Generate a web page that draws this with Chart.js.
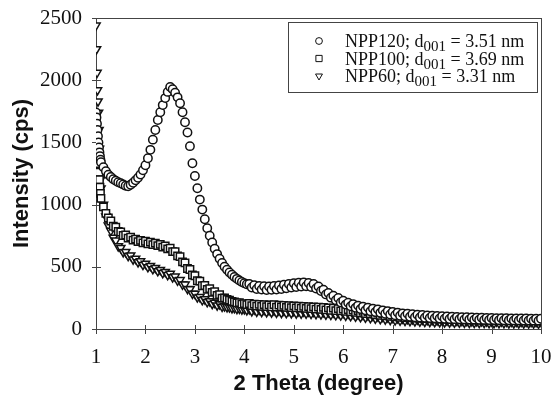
<!DOCTYPE html>
<html>
<head>
<meta charset="utf-8">
<script src="https://cdn.jsdelivr.net/npm/chart.js@4.4.0/dist/chart.umd.min.js"></script>
<style>
  html, body { margin: 0; padding: 0; background: #fff; }
  #wrap { width: 552px; height: 398px; }
</style>
</head>
<body>
<div id="wrap"><canvas id="xrd" width="552" height="398"></canvas></div>
<script>
const sampleNames = ['NPP120', 'NPP100', 'NPP60'];
const d001Values = ['3.51', '3.69', '3.31'];
const xTicks = [1, 2, 3, 4, 5, 6, 7, 8, 9, 10];
const yTicks = [0, 500, 1000, 1500, 2000, 2500];

// primeros puntos (zona de ángulo muy bajo)
const headTheta = [1.00, 1.01, 1.02, 1.03, 1.04, 1.05, 1.06, 1.07, 1.08, 1.09];
const headNPP120 = [1740, 1700, 1650, 1600, 1550, 1500, 1460, 1420, 1390, 1360];
const headNPP100 = [1700, 1640, 1560, 1480, 1400, 1330, 1260, 1200, 1140, 1090];
const headNPP60 = [2440, 2250, 2060, 1920, 1830, 1740, 1600, 1450, 1300, 1200];

// 2 theta de 1.10 a 10.00, paso 0.05
const NPP120 = [
  1340,1300,1268,1240,1222,1204,1192,1180,1172,1162,
  1152,1148,1160,1176,1195,1216,1242,1276,1316,1372,
  1440,1522,1600,1680,1742,1800,1856,1906,1945,1928,
  1900,1862,1815,1742,1662,1580,1470,1332,1230,1132,
  1040,960,882,810,750,695,645,602,565,530,
  500,476,455,436,418,403,390,378,368,360,
  362,334,352,322,346,318,344,314,342,316,
  346,318,350,322,356,328,362,334,368,338,
  372,342,374,344,370,338,362,326,342,306,
  316,278,290,252,268,232,250,214,228,196,
  212,182,200,170,188,160,180,150,172,142,
  164,136,158,130,150,122,144,116,138,110,
  132,106,126,102,122,98,118,95,115,92,
  112,90,108,88,106,86,104,84,102,82,
  100,80,98,79,96,78,95,77,94,76,
  92,75,91,74,90,73,89,72,88,72,
  87,71,86,70,86,70,85,69,84,69,
  84,68,84,68,83,67,83,67,82
];
const NPP100 = [
  1050,982,930,892,868,826,818,784,780,752,
  756,730,738,714,722,702,712,692,705,684,
  698,678,690,670,680,658,668,644,650,622,
  622,588,582,540,532,486,478,434,428,388,
  385,348,350,318,324,294,300,270,276,248,
  250,238,232,222,218,210,212,200,204,196,
  205,188,200,184,198,182,196,180,194,178,
  196,176,192,178,190,174,188,172,186,170,
  184,168,182,166,180,164,178,160,176,158,
  174,154,170,150,168,148,164,146,160,142,
  156,138,152,134,148,128,142,124,138,120,
  134,114,128,110,124,106,120,102,116,98,
  112,94,108,92,106,90,104,88,101,86,
  98,84,96,82,95,80,93,79,91,78,
  90,76,88,75,87,74,86,73,85,72,
  84,72,83,71,82,70,81,70,80,69,
  80,68,79,68,78,67,78,67,77,66,
  77,66,76,65,76,65,75,64,75
];
const NPP60 = [
  1130,1000,905,832,790,735,712,665,652,618,
  620,588,592,560,566,537,545,516,525,498,
  508,482,492,466,476,450,460,434,444,416,
  422,390,394,358,358,322,320,284,285,255,
  258,233,240,217,224,202,211,190,200,180,
  183,176,175,168,169,162,164,158,160,152,
  160,144,158,140,156,138,154,136,152,134,
  150,132,149,130,148,129,146,128,145,126,
  144,125,142,124,141,122,140,120,138,118,
  137,116,135,114,133,112,131,110,129,107,
  126,104,122,100,118,96,114,92,110,88,
  106,84,102,80,98,77,94,73,90,70,
  87,68,84,66,81,64,79,62,77,60,
  75,58,73,57,72,56,70,55,69,54,
  68,53,67,52,66,52,65,51,64,50,
  63,50,63,49,62,49,61,48,61,48,
  60,47,60,47,59,46,59,46,58,46,
  58,45,58,45,57,45,57,44,57
];

const theta = NPP120.map((_, i) => Math.round((1.10 + i * 0.05) * 100) / 100);

const toPoints = (head, values) =>
  head.map((v, i) => ({ x: headTheta[i], y: v }))
      .concat(values.map((v, i) => ({ x: theta[i], y: v })));

const serif = '"Liberation Serif", "Times New Roman", serif';
const sans = '"Liberation Sans", Arial, sans-serif';
const ink = '#111';

const markerStyles = [
  { pointStyle: 'circle', radius: 4.2, rotation: 0 },
  { pointStyle: 'rect', radius: 5.2, rotation: 0 },
  { pointStyle: 'triangle', radius: 4.8, rotation: 180 }
];

// marco del área y marcas que cruzan los ejes
const framePlugin = {
  id: 'frame',
  beforeDatasetsDraw(chart) {
    const { ctx, chartArea: a, scales } = chart;
    ctx.save();
    ctx.strokeStyle = '#444';
    ctx.lineWidth = 1;
    ctx.strokeRect(a.left + 0.5, a.top + 0.5, a.right - a.left, a.bottom - a.top);
    ctx.beginPath();
    xTicks.forEach(v => {
      const px = Math.round(scales.x.getPixelForValue(v)) + 0.5;
      ctx.moveTo(px, a.bottom - 4);
      ctx.lineTo(px, a.bottom + 5);
    });
    yTicks.forEach(v => {
      const py = Math.round(scales.y.getPixelForValue(v)) + 0.5;
      ctx.moveTo(a.left - 4, py);
      ctx.lineTo(a.left + 5, py);
    });
    ctx.stroke();
    ctx.restore();
  }
};

const drawMarker = (ctx, style, x, y) => {
  ctx.beginPath();
  if (style.pointStyle === 'circle') {
    ctx.arc(x, y, style.radius, 0, Math.PI * 2);
  } else if (style.pointStyle === 'rect') {
    const s = style.radius * Math.SQRT1_2;
    ctx.rect(x - s, y - s, 2 * s, 2 * s);
  } else {
    const r = style.radius;
    ctx.moveTo(x, y + r);
    ctx.lineTo(x - r * 0.866, y - r * 0.5);
    ctx.lineTo(x + r * 0.866, y - r * 0.5);
    ctx.closePath();
  }
  ctx.fill();
  ctx.stroke();
};

// leyenda con subíndice d001
const legendPlugin = {
  id: 'boxLegend',
  afterDraw(chart) {
    const { ctx, chartArea: a } = chart;
    const right = a.right - 4;
    const left = right - 249;
    const top = a.top + 4;
    ctx.save();
    ctx.strokeStyle = '#444';
    ctx.lineWidth = 1;
    ctx.fillStyle = '#fff';
    ctx.fillRect(left, top, right - left, 70);
    ctx.strokeRect(left + 0.5, top + 0.5, right - left, 70);
    sampleNames.forEach((name, i) => {
      const y = top + 19 + i * 17.5;
      ctx.fillStyle = '#fff';
      ctx.strokeStyle = ink;
      ctx.lineWidth = 1;
      drawMarker(ctx, { ...markerStyles[i], radius: markerStyles[i].radius - 0.8 }, left + 31, y);
      ctx.fillStyle = ink;
      ctx.textBaseline = 'alphabetic';
      let x = left + 57;
      const base = y + 6;
      ctx.font = `18px ${serif}`;
      const first = `${name}; d`;
      ctx.fillText(first, x, base);
      x += ctx.measureText(first).width;
      ctx.font = `15px ${serif}`;
      ctx.fillText('001', x, base + 4);
      x += ctx.measureText('001').width;
      ctx.font = `18px ${serif}`;
      ctx.fillText(` = ${d001Values[i]} nm`, x, base);
    });
    ctx.restore();
  }
};

const seriesData = [toPoints(headNPP120, NPP120), toPoints(headNPP100, NPP100), toPoints(headNPP60, NPP60)];

new Chart(document.getElementById('xrd'), {
  type: 'scatter',
  data: {
    datasets: sampleNames.map((name, i) => ({
      label: name,
      data: seriesData[i],
      pointStyle: markerStyles[i].pointStyle,
      pointRadius: markerStyles[i].radius,
      pointRotation: markerStyles[i].rotation,
      pointBorderWidth: 1.5,
      pointBorderColor: ink,
      pointBackgroundColor: '#fff',
      showLine: false
    }))
  },
  options: {
    responsive: false,
    animation: false,
    devicePixelRatio: 1,
    layout: { padding: { top: 18, right: 11, left: 0, bottom: 0 } },
    plugins: {
      legend: { display: false },
      tooltip: { enabled: false }
    },
    scales: {
      x: {
        type: 'linear',
        min: 1,
        max: 10,
        afterFit: s => { s.height = 69; s.paddingLeft = 0; s.paddingRight = 0; },
        afterBuildTicks: s => { s.ticks = xTicks.map(v => ({ value: v })); },
        grid: { display: false, drawTicks: false },
        border: { display: false },
        ticks: { color: ink, font: { family: serif, size: 21 }, padding: 16, maxRotation: 0, callback: v => String(v) },
        title: {
          display: true,
          text: '2 Theta (degree)',
          color: ink,
          font: { family: sans, size: 22, weight: 'bold' },
          padding: { top: 0, bottom: 1 }
        }
      },
      y: {
        type: 'linear',
        min: 0,
        max: 2500,
        afterFit: s => { s.width = 96; s.paddingTop = 0; s.paddingBottom = 0; },
        afterBuildTicks: s => { s.ticks = yTicks.map(v => ({ value: v })); },
        grid: { display: false, drawTicks: false },
        border: { display: false },
        ticks: { color: ink, font: { family: serif, size: 21 }, padding: 14, callback: v => String(v) },
        title: {
          display: true,
          text: 'Intensity (cps)',
          color: ink,
          font: { family: sans, size: 22, weight: 'bold' },
          padding: { top: 9, bottom: 0 }
        }
      }
    }
  },
  plugins: [framePlugin, legendPlugin]
});
</script>
</body>
</html>
